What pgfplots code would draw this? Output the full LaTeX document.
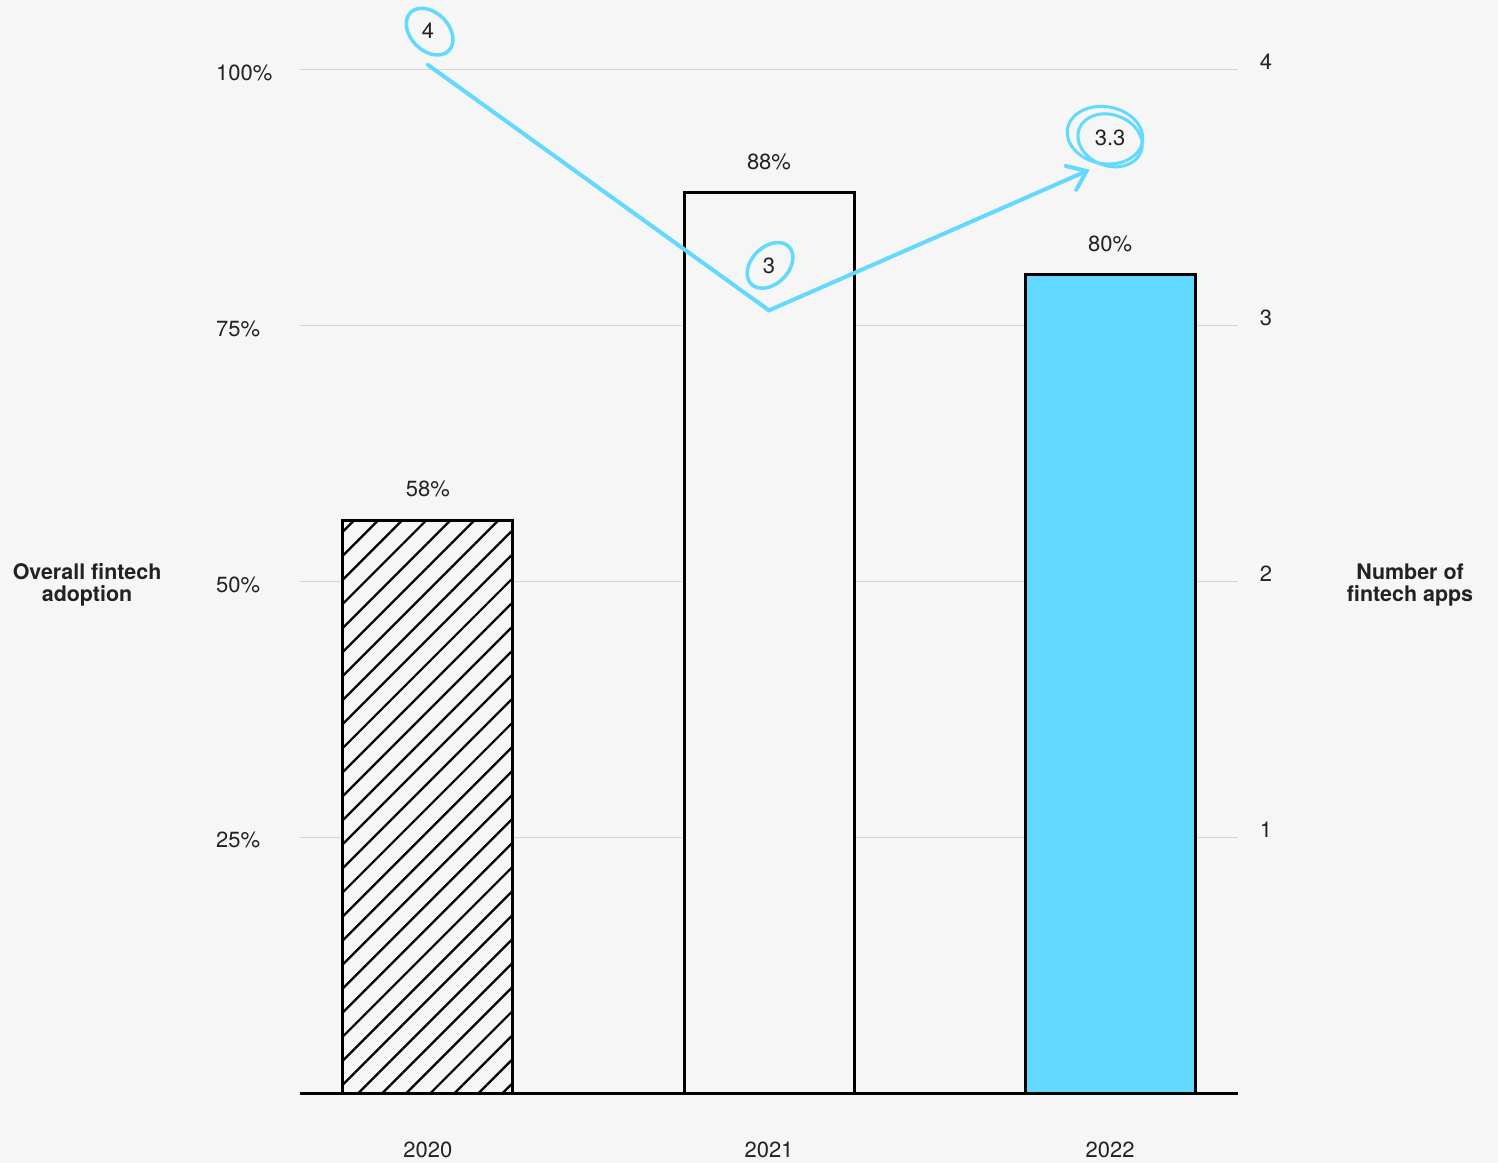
\documentclass[border=0pt]{standalone}
\usepackage{pgfplots}
\pgfplotsset{compat=1.18}
\usepackage{fontspec}
\setmainfont{TeX Gyre Heros}
\usetikzlibrary{patterns.meta,arrows.meta,shapes.geometric}

\definecolor{bg}{HTML}{F6F6F6}
\definecolor{gridc}{HTML}{D4D4D4}
\definecolor{appblue}{HTML}{63D9FF}
\definecolor{txt}{HTML}{222222}

% 1 px of the reference = 0.2mm
\pgfplotsset{
  base/.style={
    at={(60mm,14mm)}, anchor=south west,
    scale only axis, width=187.6mm, height=204.6mm,
    xmin=-0.375, xmax=2.375,
    major tick length=0pt,
    clip=false,
    every tick label/.append style={text=txt},
  },
}

\begin{document}
\fontsize{12.5}{13}\selectfont
\begin{tikzpicture}
\fill[bg] (0,0) rectangle (299.6mm,232.6mm);

% left axis: adoption bars
\begin{axis}[
  base,
  ymin=0, ymax=100,
  axis x line*=bottom, axis y line*=left,
  x axis line style={black, line width=0.6mm, -},
  y axis line style={draw=none},
  ymajorgrids, grid style={gridc, line width=0.2mm},
  ytick={25,50,75,100},
  yticklabels={25\%,50\%,75\%,100\%},
  yticklabel style={anchor=west, xshift=-18.3mm, yshift=-0.6mm},
  xtick={0,1,2},
  xticklabels={2020,2021,2022},
  xticklabel style={anchor=center, yshift=-11.4mm},
  ybar, bar width=34mm,
  point meta=explicit symbolic,
  nodes near coords,
  nodes near coords style={anchor=center, yshift=6.2mm, text=txt},
]
\addplot[bar shift=0pt, draw=black, line width=0.6mm, fill=bg,
  postaction={pattern={Lines[angle=45,distance=3.4mm,line width=0.45mm]}, pattern color=black}]
  coordinates {(0,56) [58\%]};
\addplot[bar shift=0pt, draw=black, line width=0.6mm, fill=bg]
  coordinates {(1,88) [88\%]};
\addplot[bar shift=0pt, draw=black, line width=0.6mm, fill=appblue]
  coordinates {(2,80) [80\%]};

\node[font=\bfseries\fontsize{12.2}{12.5}\selectfont, align=center, text=txt]
  at (rel axis cs:-0.227,0.4966) {Overall fintech\\adoption};
\node[font=\bfseries\fontsize{12.2}{12.5}\selectfont, align=center, text=txt]
  at (rel axis cs:1.1834,0.4966) {Number of\\fintech apps};
\end{axis}

% right axis: number of apps
\begin{axis}[
  base,
  ymin=0, ymax=4,
  axis x line=none,
  axis y line*=right,
  y axis line style={draw=none},
  ytick={1,2,3,4},
  yticklabels={1,2,3,4},
  yticklabel style={anchor=center, xshift=5.6mm, yshift=1.6mm},
]
\addplot[appblue, line width=0.8mm, line cap=round, line join=miter,
  -{Straight Barb[length=3.4mm, width=5.2mm, line cap=round]}]
  coordinates {(0,4.02) (1,3.06) (1.94,3.61)};

\node[text=txt] at (axis cs:0,4.152) {4};
\node[draw=appblue, line width=0.7mm, ellipse, rotate=-45,
  minimum width=10.8mm, minimum height=7.6mm] at (axis cs:0.005,4.15) {};

\node[text=txt] at (axis cs:1,3.234) {3};
\node[draw=appblue, line width=0.7mm, ellipse, rotate=45,
  minimum width=10.6mm, minimum height=7.4mm] at (axis cs:1.003,3.236) {};

\node[text=txt] at (axis cs:2,3.734) {3.3};
\node[draw=appblue, line width=0.6mm, ellipse, rotate=-10,
  minimum width=15.2mm, minimum height=11.4mm] at (axis cs:1.985,3.745) {};
\node[draw=appblue, line width=0.6mm, ellipse, rotate=-20,
  minimum width=13.2mm, minimum height=10.2mm] at (axis cs:2.0,3.725) {};
\end{axis}

\pgfresetboundingbox
\useasboundingbox (0,0) rectangle (299.6mm,232.6mm);
\end{tikzpicture}
\end{document}
